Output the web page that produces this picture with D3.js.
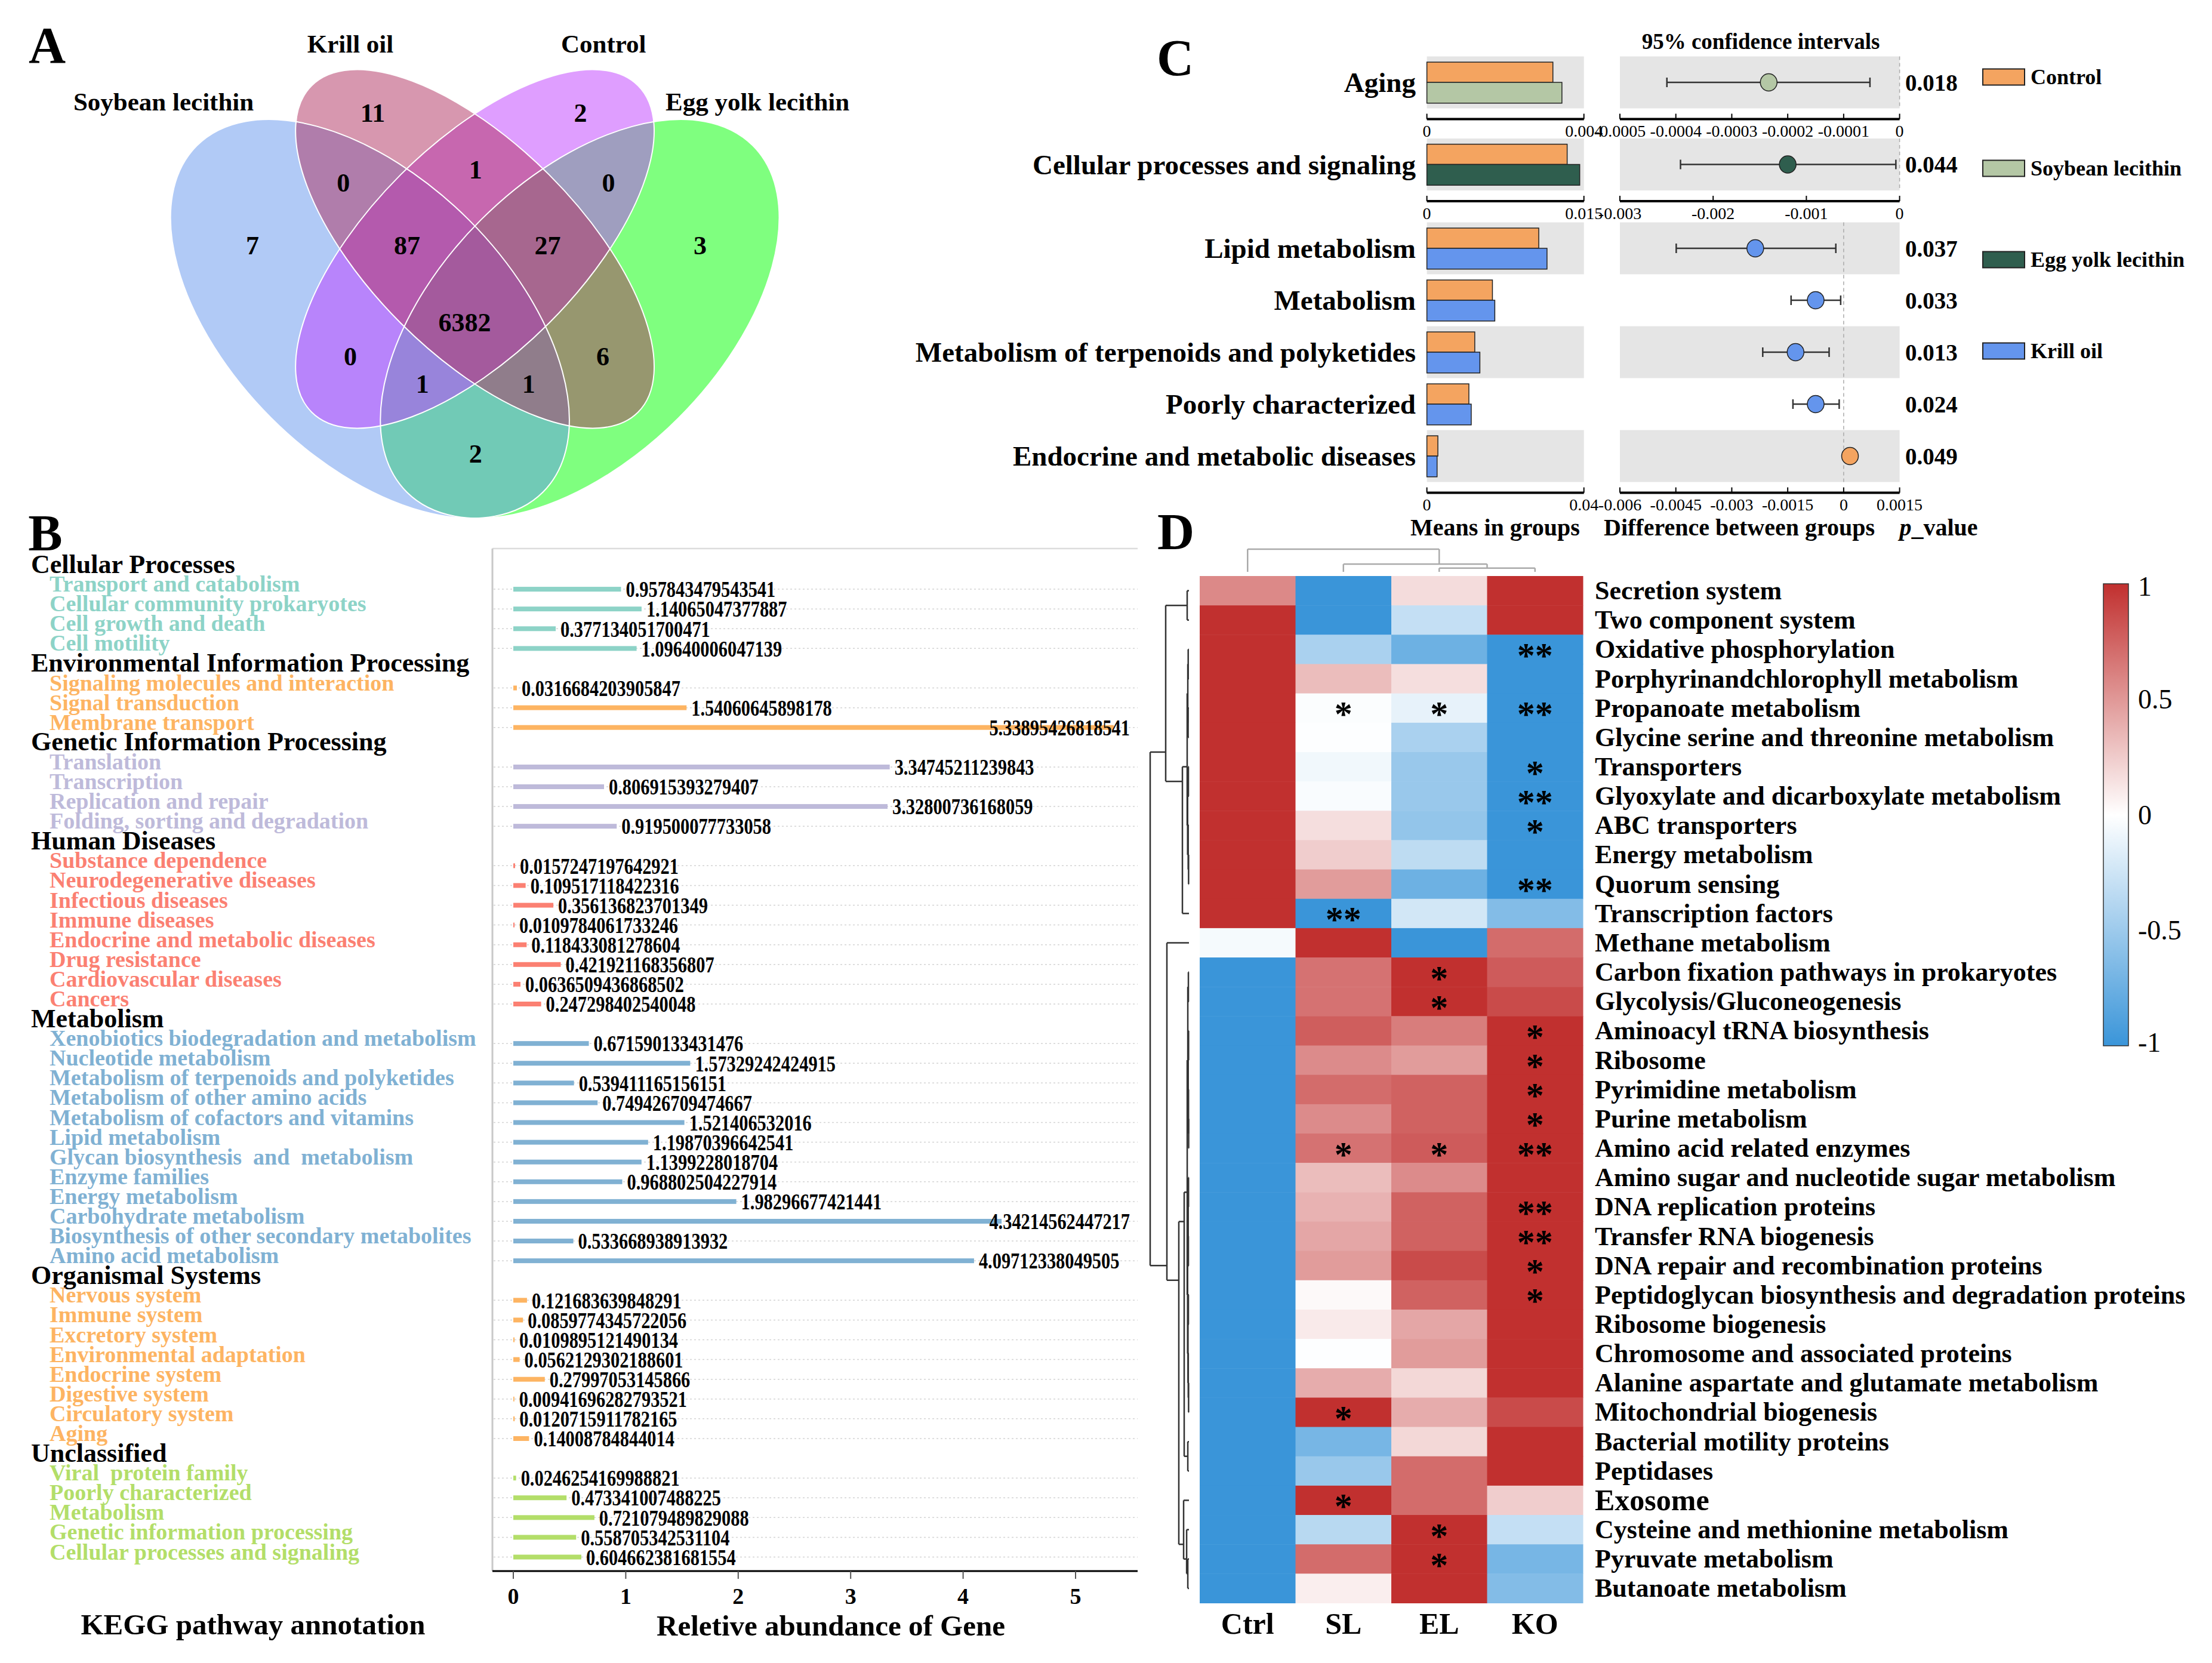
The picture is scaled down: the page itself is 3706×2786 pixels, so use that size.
<!DOCTYPE html>
<html><head><meta charset="utf-8">
<script src="https://cdn.jsdelivr.net/npm/d3@7"></script>
<style>body{margin:0;background:#fff}</style>
</head><body><svg id="c" width="3706" height="2786"></svg>
<script>
// ================= DATA =================
// ---- Panel A : Venn ----
const vennSets = ["Soybean lecithin", "Krill oil", "Control", "Egg yolk lecithin"];
const vennColors = ["#6495ED", "#B03060", "#BF3EFF", "#00FF00"];
const vennCounts = [11, 2, 7, 0, 1, 0, 3, 87, 27, 6382, 0, 6, 1, 1, 2];
// region label anchor in Venn unit space
const vennLabelPos = [[0.354,0.764],[0.651,0.764],[0.182,0.575],[0.312,0.664],[0.501,0.683],[0.691,0.664],[0.822,0.575],[0.403,0.575],[0.604,0.575],[0.4855,0.465],[0.322,0.416],[0.683,0.416],[0.425,0.377],[0.577,0.377],[0.501,0.277]];
const vennSetLabelPos = [[0.055,0.780],[0.322,0.863],[0.684,0.863],[0.904,0.780]];

// ---- Panel B : KEGG pathway annotation ----
const keggGroups = ["Cellular Processes", "Environmental Information Processing", "Genetic Information Processing", "Human Diseases", "Metabolism", "Organismal Systems", "Unclassified"];
const keggGroupColors = ["#8DD3C7", "#FDB462", "#BEBADA", "#FB8072", "#80B1D3", "#FDB462", "#B3DE69"];
const keggPathways = [
  "Transport and catabolism","Cellular community prokaryotes","Cell growth and death","Cell motility",
  "Signaling molecules and interaction","Signal transduction","Membrane transport",
  "Translation","Transcription","Replication and repair","Folding, sorting and degradation",
  "Substance dependence","Neurodegenerative diseases","Infectious diseases","Immune diseases","Endocrine and metabolic diseases","Drug resistance","Cardiovascular diseases","Cancers",
  "Xenobiotics biodegradation and metabolism","Nucleotide metabolism","Metabolism of terpenoids and polyketides","Metabolism of other amino acids","Metabolism of cofactors and vitamins","Lipid metabolism","Glycan biosynthesis  and  metabolism","Enzyme families","Energy metabolism","Carbohydrate metabolism","Biosynthesis of other secondary metabolites","Amino acid metabolism",
  "Nervous system","Immune system","Excretory system","Environmental adaptation","Endocrine system","Digestive system","Circulatory system","Aging",
  "Viral  protein family","Poorly characterized","Metabolism","Genetic information processing","Cellular processes and signaling"];
const keggPathwayGroup = [0,0,0,0, 1,1,1, 2,2,2,2, 3,3,3,3,3,3,3,3, 4,4,4,4,4,4,4,4,4,4,4,4, 5,5,5,5,5,5,5,5, 6,6,6,6,6];
const keggAbundance = [
  0.957843479543541, 1.14065047377887, 0.377134051700471, 1.09640006047139,
  0.0316684203905847, 1.54060645898178, 5.33895426818541,
  3.34745211239843, 0.806915393279407, 3.32800736168059, 0.919500077733058,
  0.0157247197642921, 0.109517118422316, 0.356136823701349, 0.0109784061733246, 0.118433081278604, 0.421921168356807, 0.0636509436868502, 0.247298402540048,
  0.671590133431476, 1.57329242424915, 0.539411165156151, 0.749426709474667, 1.521406532016, 1.19870396642541, 1.1399228018704, 0.968802504227914, 1.98296677421441, 4.34214562447217, 0.533668938913932, 4.09712338049505,
  0.121683639848291, 0.0859774345722056, 0.0109895121490134, 0.0562129302188601, 0.27997053145866, 0.00941696282793521, 0.0120715911782165, 0.14008784844014,
  0.0246254169988821, 0.473341007488225, 0.721079489829088, 0.558705342531104, 0.604662381681554];
const keggTicks = [0, 1, 2, 3, 4, 5];

// ---- Panel C : STAMP-like comparison ----
const cPathways = ["Aging","Cellular processes and signaling","Lipid metabolism","Metabolism","Metabolism of terpenoids and polyketides","Poorly characterized","Endocrine and metabolic diseases"];
const cOtherGroup = ["Soybean lecithin","Egg yolk lecithin","Krill oil","Krill oil","Krill oil","Krill oil","Krill oil"];
const cMeanControl = [0.00321, 0.0134, 0.0285, 0.0167, 0.0122, 0.0107, 0.0028];
const cMeanOther   = [0.00344, 0.0146, 0.0306, 0.0173, 0.0135, 0.0113, 0.0026];
const cDiff   = [-0.000234, -0.0012, -0.00237, -0.00075, -0.00129, -0.00075, 0.00017];
const cCiLow  = [-0.000416, -0.00235, -0.00449, -0.00141, -0.00217, -0.00136, 0.00003];
const cCiHigh = [-0.000053, -0.00004, -0.00021, -0.00008, -0.00039, -0.00012, 0.00031];
const cPvalues = ["0.018","0.044","0.037","0.033","0.013","0.024","0.049"];
const cLegend = ["Control","Soybean lecithin","Egg yolk lecithin","Krill oil"];
const cLegendColors = ["#F4A460","#B4C7A5","#2F5E4E","#6495ED"];
const cSectionRows = [[0],[1],[2,3,4,5,6]];
const cMeanDomains = [[0,0.004],[0,0.015],[0,0.04]];
const cDiffDomains = [[-0.0005,0],[-0.003,0],[-0.006,0.0015]];
const cDiffTicks = [[-0.0005,-0.0004,-0.0003,-0.0002,-0.0001,0],[-0.003,-0.002,-0.001,0],[-0.006,-0.0045,-0.003,-0.0015,0,0.0015]];

// ---- Panel D : heatmap ----
const heatCols = ["Ctrl","SL","EL","KO"];
const heatRows = ["Secretion system","Two component system","Oxidative phosphorylation","Porphyrinandchlorophyll metabolism","Propanoate metabolism","Glycine serine and threonine metabolism","Transporters","Glyoxylate and dicarboxylate metabolism","ABC transporters","Energy metabolism","Quorum sensing","Transcription factors","Methane metabolism","Carbon fixation pathways in prokaryotes","Glycolysis/Gluconeogenesis","Aminoacyl tRNA biosynthesis","Ribosome","Pyrimidine metabolism","Purine metabolism","Amino acid related enzymes","Amino sugar and nucleotide sugar metabolism","DNA replication proteins","Transfer RNA biogenesis","DNA repair and recombination proteins","Peptidoglycan biosynthesis and degradation proteins","Ribosome biogenesis","Chromosome and associated proteins","Alanine aspartate and glutamate metabolism","Mitochondrial biogenesis","Bacterial motility proteins","Peptidases","Exosome","Cysteine and methionine metabolism","Pyruvate metabolism","Butanoate metabolism"];
const heatValues = [
  [0.57,-1,0.17,1],[1,-1,-0.3,1],[1,-0.43,-0.74,-1],[1,0.32,0.16,-1],[1,-0.02,-0.12,-1],
  [1,-0.01,-0.43,-1],[1,-0.07,-0.52,-1],[1,-0.03,-0.52,-1],[1,0.16,-0.55,-1],[1,0.24,-0.33,-1],
  [1,0.48,-0.74,-1],[1,-1,-0.23,-0.63],[-0.05,1,-1,0.71],[-1,0.68,1,0.79],[-1,0.68,1,0.87],
  [-1,0.78,0.63,1],[-1,0.56,0.48,1],[-1,0.71,0.76,1],[-1,0.56,0.76,1],[-1,0.68,0.79,1],
  [-1,0.32,0.56,1],[-1,0.37,0.76,1],[-1,0.43,0.76,1],[-1,0.48,0.87,1],[-1,0.03,0.76,1],
  [-1,0.1,0.43,1],[-1,-0.01,0.48,1],[-1,0.4,0.19,1],[-1,1,0.4,0.87],[-1,-0.69,0.19,1],
  [-1,-0.52,0.71,1],[-1,1,0.71,0.24],[-1,-0.36,1,-0.3],[-1,0.71,1,-0.69],[-1,0.08,1,-0.63]];
const heatStars = [
  ["","","",""],["","","",""],["","","","**"],["","","",""],["","*","*","**"],
  ["","","",""],["","","","*"],["","","","**"],["","","","*"],["","","",""],
  ["","","","**"],["","**","",""],["","","",""],["","","*",""],["","","*",""],
  ["","","","*"],["","","","*"],["","","","*"],["","","","*"],["","*","*","**"],
  ["","","",""],["","","","**"],["","","","**"],["","","","*"],["","","","*"],
  ["","","",""],["","","",""],["","","",""],["","*","",""],["","","",""],
  ["","","",""],["","*","",""],["","","*",""],["","","*",""],["","","",""]];
const heatLegendTicks = [1, 0.5, 0, -0.5, -1];
// dendrograms (leaf = index, node = {h, c})
const colTree = {h:1, c:[0, {h:0.34, c:[1, {h:0.165, c:[2,3]}]}]};
const rowTree = {h:1, c:[
  {h:0.6, c:[{h:0.046, c:[0,1]},
             {h:0.169, c:[{h:0.046, c:[{h:0.03, c:[{h:0.02,c:[2,3]},{h:0.022,c:[4,5]}]},
                                          {h:0.035, c:[{h:0.015,c:[6,7]},{h:0.02,c:[8,{h:0.01,c:[9,10]}]}]}]}, 11]}]},
  {h:0.569, c:[12, {h:0.262, c:[
      {h:0.123, c:[
         {h:0.045, c:[{h:0.03, c:[{h:0.015,c:[13,14]},{h:0.02,c:[{h:0.01,c:[15,16]},{h:0.012,c:[17,{h:0.008,c:[18,19]}]}]}]},
                      {h:0.035, c:[{h:0.02,c:[{h:0.012,c:[20,21]},{h:0.015,c:[22,23]}]},{h:0.025,c:[{h:0.015,c:[24,25]},{h:0.018,c:[26,{h:0.01,c:[27,28]}]}]}]}]},
         {h:0.03, c:[29,30]}]},
      {h:0.138, c:[31, {h:0.06, c:[32, {h:0.03, c:[33,34]}]}]}]}]}]};

// ================= DRAWING =================
const svg = d3.select("#c");
svg.append("rect").attr("width",3706).attr("height",2786).attr("fill","#fff");
const FONT = "'Liberation Serif','Times New Roman',Times,serif";
function txt(g, x, y, s, o = {}) {
  const t = g.append("text")
    .attr("transform", `translate(${x},${y})` + (o.sx ? ` scale(${o.sx},1)` : ""))
    .attr("font-family", FONT)
    .attr("font-weight", o.weight || "bold")
    .attr("font-size", o.size || 40)
    .attr("fill", o.fill || "#000")
    .attr("text-anchor", o.anchor || "start")
    .attr("dominant-baseline", "central")
    .style("white-space", "pre")
    .text(s);
  if (o.style) t.attr("font-style", o.style);
  return t;
}

// panel letters
txt(svg, 79, 76, "A", {size:86, anchor:"middle"});
txt(svg, 76, 893, "B", {size:86, anchor:"middle"});
txt(svg, 1969, 97, "C", {size:86, anchor:"middle"});
txt(svg, 1970, 891, "D", {size:86, anchor:"middle"});

// ---------- Panel A ----------
{
  const g = svg.append("g");
  const vx = d3.scaleLinear([0,1],[209.6,1381.6]);
  const vy = d3.scaleLinear([0,1],[1085,-87]);
  const ell = [[0.35,0.47,0.35,0.20,45],[0.50,0.57,0.33,0.15,45],[0.50,0.57,0.33,0.15,-45],[0.65,0.47,0.35,0.20,-45]];
  const order = [3,0,2,1];
  const len = v => vx(v) - vx(0);
  order.forEach(i => {
    const e = ell[i];
    g.append("ellipse").attr("rx", len(e[2])).attr("ry", len(e[3]))
      .attr("transform", `translate(${vx(e[0])},${vy(e[1])}) rotate(${e[4]})`)
      .attr("fill", vennColors[i]).attr("fill-opacity", 0.5);
  });
  order.forEach(i => {
    const e = ell[i];
    g.append("ellipse").attr("rx", len(e[2])).attr("ry", len(e[3]))
      .attr("transform", `translate(${vx(e[0])},${vy(e[1])}) rotate(${e[4]})`)
      .attr("fill", "none").attr("stroke", "#fff").attr("stroke-width", 2);
  });
  vennCounts.forEach((c, i) => txt(g, vx(vennLabelPos[i][0]), vy(vennLabelPos[i][1]), String(c), {size:44, anchor:"middle"}));
  vennSets.forEach((s, i) => txt(g, vx(vennSetLabelPos[i][0]), vy(vennSetLabelPos[i][1]), s, {size:43, anchor:"middle"}));
}

// ---------- Panel B ----------
{
  const g = svg.append("g");
  const rows = [];
  keggGroups.forEach((grp, gi) => {
    rows.push({header:true, name:grp, group:gi});
    keggPathways.forEach((p, pi) => { if (keggPathwayGroup[pi] === gi) rows.push({header:false, name:p, group:gi, value:keggAbundance[pi]}); });
  });
  const ry = d3.scaleLinear([0, rows.length - 1], [945, 945 + (rows.length - 1) * 33.09]);
  const bx = d3.scaleLinear([0, 5], [860, 1802]);
  const left = 825, right = 1906, top = 919, bottom = 2632;
  // frame
  g.append("line").attr("x1", left).attr("x2", right).attr("y1", top).attr("y2", top).attr("stroke", "#dcdcdc").attr("stroke-width", 2.5);
  g.append("line").attr("x1", left).attr("x2", left).attr("y1", top).attr("y2", bottom).attr("stroke", "#c8c8c8").attr("stroke-width", 3);
  rows.forEach((r, i) => {
    if (r.header) {
      txt(g, 52, ry(i), r.name, {size:44});
    } else {
      txt(g, 83, ry(i), r.name, {size:38, fill:keggGroupColors[r.group]});
      const y = ry(i) + 9;
      g.append("line").attr("x1", left + 2).attr("x2", right).attr("y1", y).attr("y2", y)
        .attr("stroke", "#d4d4d4").attr("stroke-width", 1.5).attr("stroke-dasharray", "3,4");
    }
  });
  rows.forEach((r, i) => {
    if (r.header) return;
    const y = ry(i) + 9;
    g.append("rect").attr("x", bx(0)).attr("y", y - 4).attr("width", bx(r.value) - bx(0)).attr("height", 8)
      .attr("fill", keggGroupColors[r.group]);
  });
  rows.forEach((r, i) => {
    if (r.header) return;
    const y = ry(i) + 9;
    const sx = 0.8;
    let x = bx(r.value) + 8;
    const t = txt(g, x, y, String(r.value), {size:38, sx:sx});
    const w = t.node().getComputedTextLength() * sx;
    if (x + w > 1893) { x = 1893 - w; t.attr("transform", `translate(${x},${y}) scale(${sx},1)`); }
  });
  // axis
  g.append("line").attr("x1", left).attr("x2", right).attr("y1", bottom).attr("y2", bottom).attr("stroke", "#000").attr("stroke-width", 3);
  keggTicks.forEach(t => {
    g.append("line").attr("x1", bx(t)).attr("x2", bx(t)).attr("y1", bottom).attr("y2", bottom + 13).attr("stroke", "#555").attr("stroke-width", 2);
    txt(g, bx(t), 2674, String(t), {size:38, anchor:"middle"});
  });
  txt(g, 1392, 2723, "Reletive abundance of Gene", {size:49, anchor:"middle"});
  txt(g, 424, 2721, "KEGG pathway annotation", {size:49, anchor:"middle"});
}

// ---------- Panel C ----------
{
  const g = svg.append("g");
  const rowH = 87, sectionTop = [94.5, 232, 372.5];
  const mRange = [2390.6, 2653.7], dRange = [2714, 3182.6];
  const colorOf = name => cLegendColors[cLegend.indexOf(name)];
  cSectionRows.forEach((rowsIdx, s) => {
    const mx = d3.scaleLinear(cMeanDomains[s], mRange);
    const dx = d3.scaleLinear(cDiffDomains[s], dRange);
    const y0 = sectionTop[s];
    rowsIdx.forEach((ri, k) => {
      const yt = y0 + k * rowH;
      if (k % 2 === 0) {
        g.append("rect").attr("x", mRange[0]).attr("y", yt).attr("width", mRange[1] - mRange[0]).attr("height", rowH).attr("fill", "#E5E5E5");
        g.append("rect").attr("x", dRange[0]).attr("y", yt).attr("width", dRange[1] - dRange[0]).attr("height", rowH).attr("fill", "#E5E5E5");
      }
    });
    // zero line
    const yEnd = y0 + rowsIdx.length * rowH;
    g.append("line").attr("x1", dx(0)).attr("x2", dx(0)).attr("y1", y0).attr("y2", yEnd)
      .attr("stroke", "#aaa").attr("stroke-width", 1.5).attr("stroke-dasharray", "6,5");
    rowsIdx.forEach((ri, k) => {
      const yt = y0 + k * rowH, yc = yt + rowH / 2;
      // bars
      g.append("rect").attr("x", mx(0)).attr("y", yt + rowH * 0.11).attr("width", mx(cMeanControl[ri]) - mx(0)).attr("height", rowH * 0.39)
        .attr("fill", colorOf("Control")).attr("stroke", "#222").attr("stroke-width", 1.5);
      g.append("rect").attr("x", mx(0)).attr("y", yt + rowH * 0.5).attr("width", mx(cMeanOther[ri]) - mx(0)).attr("height", rowH * 0.4)
        .attr("fill", colorOf(cOtherGroup[ri])).attr("stroke", "#222").attr("stroke-width", 1.5);
      // CI
      g.append("line").attr("x1", dx(cCiLow[ri])).attr("x2", dx(cCiHigh[ri])).attr("y1", yc).attr("y2", yc).attr("stroke", "#333").attr("stroke-width", 2.5);
      [cCiLow[ri], cCiHigh[ri]].forEach(v => g.append("line").attr("x1", dx(v)).attr("x2", dx(v)).attr("y1", yc - 8).attr("y2", yc + 8).attr("stroke", "#333").attr("stroke-width", 2.5));
      const pc = cDiff[ri] < 0 ? colorOf(cOtherGroup[ri]) : colorOf("Control");
      g.append("ellipse").attr("cx", dx(cDiff[ri])).attr("cy", yc).attr("rx", 14).attr("ry", 14.5)
        .attr("fill", pc).attr("stroke", "#222").attr("stroke-width", 1.5);
      txt(g, 2372, yc, cPathways[ri], {size:47, anchor:"end"});
      txt(g, 3192, yc, cPvalues[ri], {size:39});
    });
    // axes
    const ay = yEnd + 18;
    g.append("line").attr("x1", mRange[0]).attr("x2", mRange[1]).attr("y1", ay).attr("y2", ay).attr("stroke", "#000").attr("stroke-width", 4);
    g.append("line").attr("x1", dRange[0]).attr("x2", dRange[1]).attr("y1", ay).attr("y2", ay).attr("stroke", "#000").attr("stroke-width", 4);
    cMeanDomains[s].forEach(v => {
      g.append("line").attr("x1", mx(v)).attr("x2", mx(v)).attr("y1", ay).attr("y2", ay - 9).attr("stroke", "#000").attr("stroke-width", 2);
      txt(g, mx(v), ay + 20, String(v), {size:28, anchor:"middle", weight:"normal"});
    });
    cDiffTicks[s].forEach(v => {
      g.append("line").attr("x1", dx(v)).attr("x2", dx(v)).attr("y1", ay).attr("y2", ay - 9).attr("stroke", "#000").attr("stroke-width", 2);
      txt(g, dx(v), ay + 20, String(v), {size:28, anchor:"middle", weight:"normal"});
    });
  });
  txt(g, 2950, 69, "95% confidence intervals", {size:37, anchor:"middle"});
  txt(g, 2505, 883, "Means in groups", {size:40, anchor:"middle"});
  txt(g, 2914, 883, "Difference between groups", {size:40, anchor:"middle"});
  const pv = txt(g, 3248, 883, "", {size:40, anchor:"middle"});
  pv.append("tspan").attr("font-style", "italic").text("p");
  pv.append("tspan").text("_value");
  // legend
  cLegend.forEach((name, i) => {
    const y = 129 + i * 153;
    g.append("rect").attr("x", 3322).attr("y", y - 13.5).attr("width", 70).attr("height", 27)
      .attr("fill", cLegendColors[i]).attr("stroke", "#222").attr("stroke-width", 2);
    txt(g, 3402, y, name, {size:36});
  });
}

// ---------- Panel D ----------
{
  const g = svg.append("g");
  const hx = d3.scaleBand(heatCols, [2010, 2652]);
  const hy = d3.scaleBand(heatRows, [965, 2685.5]);
  const col = d3.scaleLinear([-1, 0, 1], ["#3A95D9", "#FFFFFF", "#C1302F"]);
  heatRows.forEach((r, i) => {
    heatCols.forEach((c, j) => {
      g.append("rect").attr("x", hx(c)).attr("y", hy(r)).attr("width", hx.bandwidth() + 0.5).attr("height", hy.bandwidth() + 0.5)
        .attr("fill", col(heatValues[i][j]));
    });
  });
  heatRows.forEach((r, i) => {
    heatCols.forEach((c, j) => {
      const s = heatStars[i][j];
      if (s) txt(g, hx(c) + hx.bandwidth() / 2, hy(r) + hy.bandwidth() / 2 + 10, s, {size:60, anchor:"middle"});
    });
    txt(g, 2672, hy(r) + hy.bandwidth() / 2, r, {size: r === "Exosome" ? 50 : 44});
  });
  heatCols.forEach(c => txt(g, hx(c) + hx.bandwidth() / 2, 2720, c, {size:50, anchor:"middle"}));

  // dendrograms
  function span(n) { if (typeof n === "number") return [n, n]; const a = n.c.map(span); return [d3.min(a, d => d[0]), d3.max(a, d => d[1])]; }
  function drawTree(node, leafPos, hpos, vertical, stroke) {
    const pos = n => { const s = span(n); return (leafPos(s[0]) + leafPos(s[1])) / 2; };
    const hOf = n => typeof n === "number" ? 0 : n.h;
    (function rec(n) {
      if (typeof n === "number") return;
      const ps = n.c.map(pos);
      const h = hpos(n.h);
      if (vertical) {
        g.append("line").attr("x1", d3.min(ps)).attr("x2", d3.max(ps)).attr("y1", h).attr("y2", h).attr("stroke", stroke).attr("stroke-width", 2.5);
        n.c.forEach((ch, k) => g.append("line").attr("x1", ps[k]).attr("x2", ps[k]).attr("y1", h).attr("y2", hpos(hOf(ch))).attr("stroke", stroke).attr("stroke-width", 2.5));
      } else {
        g.append("line").attr("y1", d3.min(ps)).attr("y2", d3.max(ps)).attr("x1", h).attr("x2", h).attr("stroke", stroke).attr("stroke-width", 2.5);
        n.c.forEach((ch, k) => g.append("line").attr("y1", ps[k]).attr("y2", ps[k]).attr("x1", h).attr("x2", hpos(hOf(ch))).attr("stroke", stroke).attr("stroke-width", 2.5));
      }
      n.c.forEach(rec);
    })(node);
  }
  drawTree(colTree, i => hx(heatCols[i]) + hx.bandwidth() / 2, d3.scaleLinear([0, 1], [958, 920]), true, "#aaa");
  drawTree(rowTree, i => hy(heatRows[i]) + hy.bandwidth() / 2, d3.scaleLinear([0, 1], [1992, 1927]), false, "#333");

  // color legend
  const cb = d3.scaleLinear([-1, 1], [1752, 978]);
  const grad = svg.append("defs").append("linearGradient").attr("id", "hg").attr("x1", 0).attr("x2", 0).attr("y1", 1).attr("y2", 0);
  [-1, -0.5, 0, 0.5, 1].forEach(v => grad.append("stop").attr("offset", (v + 1) / 2).attr("stop-color", col(v)));
  g.append("rect").attr("x", 3524).attr("y", cb(1)).attr("width", 42).attr("height", cb(-1) - cb(1))
    .attr("fill", "url(#hg)").attr("stroke", "#333").attr("stroke-width", 1.5);
  heatLegendTicks.forEach(v => txt(g, 3582, cb(v) + (v === 1 ? 4 : v === -1 ? -6 : 0), String(v), {size:46, weight:"normal"}));
}
</script>
</body></html>
